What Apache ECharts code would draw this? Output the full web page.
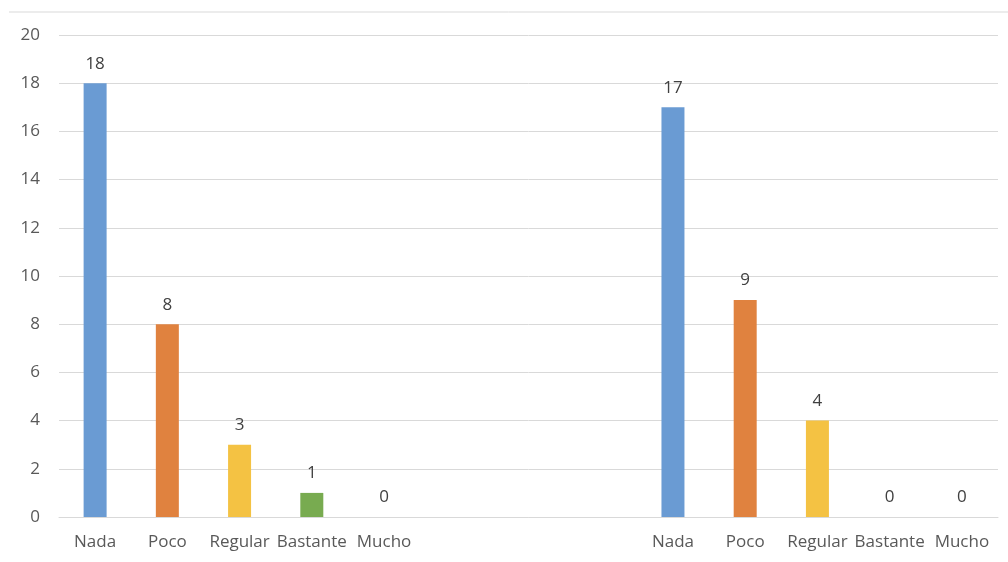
<!DOCTYPE html>
<html>
<head>
<meta charset="utf-8">
<script src="https://cdn.jsdelivr.net/npm/echarts@6/dist/echarts.min.js"></script>
<style>
html,body{margin:0;padding:0;background:#fff;}
#chart{width:1008px;height:562px;}
</style>
</head>
<body>
<div id="chart"></div>
<script>
const levels = ['Nada', 'Poco', 'Regular', 'Bastante', 'Mucho'];
const group1 = [18, 8, 3, 1, 0];
const group2 = [17, 9, 4, 0, 0];
const gapCount = 3;
const colors = ['#6a9bd3', '#e0823f', '#f4c243', '#78ab50', '#a5a5a5'];
const yTicks = [0, 2, 4, 6, 8, 10, 12, 14, 16, 18, 20];

const categories = [];
const data = [];
levels.forEach((l, i) => { categories.push(l); data.push({ value: group1[i], itemStyle: { color: colors[i] } }); });
for (let i = 0; i < gapCount; i++) { categories.push(''); data.push(null); }
levels.forEach((l, i) => { categories.push(l); data.push({ value: group2[i], itemStyle: { color: colors[i] } }); });

const chart = echarts.init(document.getElementById('chart'));
chart.setOption({
  animation: false,
  grid: { left: 59, right: 10, top: 35, bottom: 45, containLabel: false },
  graphic: [{
    type: 'line', shape: { x1: 9, y1: 12, x2: 1008, y2: 12 },
    style: { stroke: '#d9d9d9', lineWidth: 1 }
  }],
  xAxis: {
    type: 'category',
    data: categories,
    axisTick: { show: false },
    axisLine: { lineStyle: { color: '#d9d9d9' } },
    axisLabel: { color: '#595959', fontSize: 17, fontFamily: 'Open Sans', margin: 17, interval: 0 }
  },
  yAxis: {
    type: 'value',
    min: yTicks[0], max: yTicks[yTicks.length - 1], interval: 2,
    axisLine: { show: false }, axisTick: { show: false },
    splitLine: { lineStyle: { color: '#d9d9d9' } },
    axisLabel: { color: '#595959', fontSize: 17, fontFamily: 'Open Sans', margin: 19 }
  },
  series: [{
    type: 'bar',
    data: data,
    barWidth: 23,
    label: { show: true, position: 'top', distance: 11, color: '#404040', fontSize: 17, fontFamily: 'Open Sans' }
  }]
});
</script>
</body>
</html>
